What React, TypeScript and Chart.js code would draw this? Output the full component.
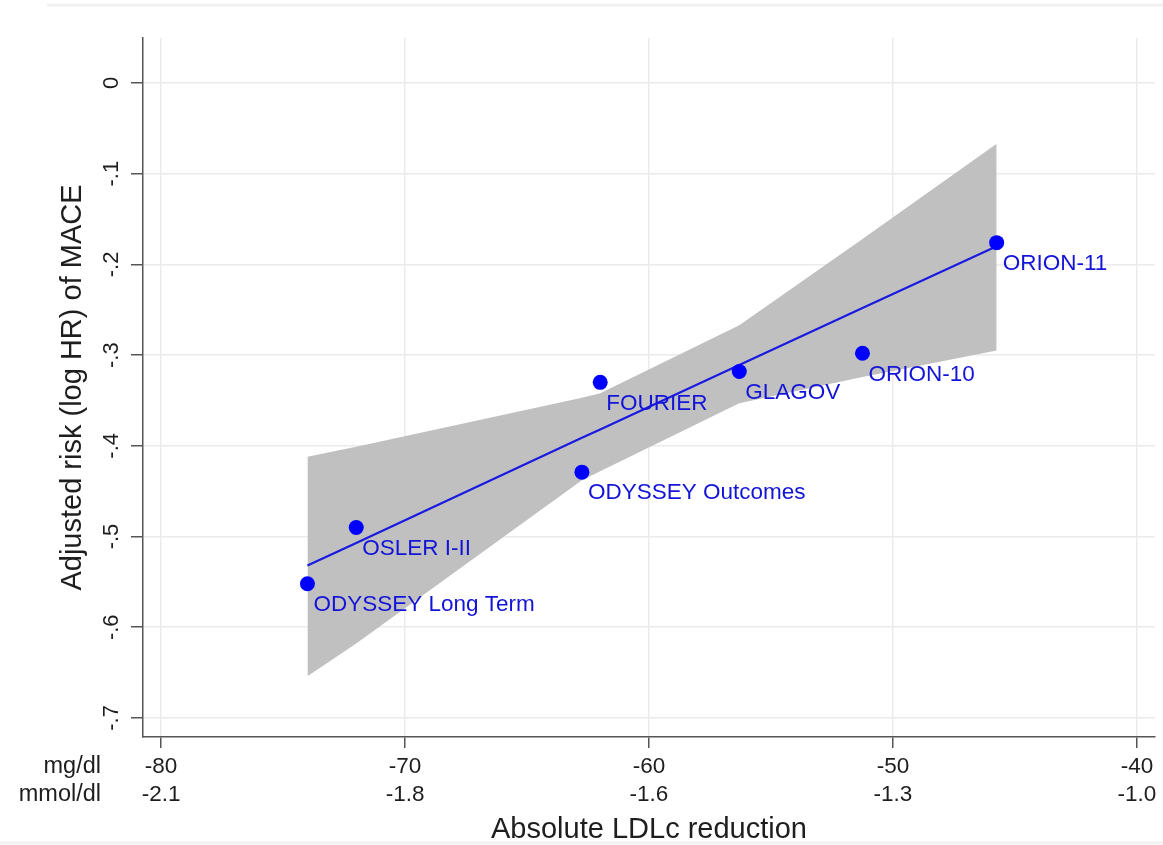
import React, { useEffect, useRef } from 'react';
import { Chart, registerables } from 'chart.js';

Chart.register(...registerables);

// ---- data ----
const trials = ['ODYSSEY Long Term', 'OSLER I-II', 'ODYSSEY Outcomes', 'FOURIER', 'GLAGOV', 'ORION-10', 'ORION-11'];
const ldlReduction = [-74.0, -72.0, -62.75, -62.0, -56.3, -51.25, -45.75];
const logHR = [-0.552, -0.49, -0.429, -0.33, -0.318, -0.298, -0.176];
const fittedLogHR = [-0.532, -0.507, -0.391, -0.382, -0.311, -0.248, -0.180];
const ciUpper = [-0.412, -0.401, -0.347, -0.342, -0.267, -0.172, -0.067];
const ciLower = [-0.654, -0.618, -0.438, -0.428, -0.353, -0.324, -0.295];

const xTicksMgDl = [-80, -70, -60, -50, -40];
const xTickLabelsMgDl = ['-80', '-70', '-60', '-50', '-40'];
const xTickLabelsMmol = ['-2.1', '-1.8', '-1.6', '-1.3', '-1.0'];
const yTicks = [0, -0.1, -0.2, -0.3, -0.4, -0.5, -0.6, -0.7];
const yTickLabels = ['0', '-.1', '-.2', '-.3', '-.4', '-.5', '-.6', '-.7'];

const xTitle = 'Absolute LDLc reduction';
const yTitle = 'Adjusted risk (log HR) of MACE';
const unitRow1 = 'mg/dl';
const unitRow2 = 'mmol/dl';

const FONT = '"Liberation Sans", Arial, Helvetica, sans-serif';
const BLUE = '#0000ff';
const LABEL_BLUE = '#1414d8';
const AXIS = '#555555';
const GRID = '#ebebeb';
const TEXT = '#1e1e1e';

const pts = (ys: number[]) => ldlReduction.map((x, i) => ({ x, y: ys[i] }));

const annotations = {
  id: 'annotations',
  beforeDraw(chart: any) {
    const { ctx, width, height } = chart;
    ctx.save();
    ctx.fillStyle = '#ffffff';
    ctx.fillRect(0, 0, width, height);
    // faint outer frame remnants visible in the reference
    ctx.strokeStyle = '#f1f1f1';
    ctx.lineWidth = 3;
    ctx.beginPath();
    ctx.moveTo(47, 5);
    ctx.lineTo(width, 5);
    ctx.moveTo(0, height - 2);
    ctx.lineTo(width, height - 2);
    ctx.stroke();
    ctx.restore();
  },
  afterDatasetsDraw(chart: any) {
    const { ctx, scales } = chart;
    const x = scales.x;
    const y = scales.y;
    ctx.save();
    ctx.font = `22.5px ${FONT}`;
    ctx.fillStyle = LABEL_BLUE;
    ctx.textAlign = 'left';
    ctx.textBaseline = 'middle';
    trials.forEach((t, i) => {
      ctx.fillText(t, x.getPixelForValue(ldlReduction[i]) + 6, y.getPixelForValue(logHR[i]) + 21);
    });
    ctx.restore();
  },
  afterDraw(chart: any) {
    const { ctx, scales, chartArea } = chart;
    const y = scales.y;
    ctx.save();
    ctx.fillStyle = TEXT;
    // y tick labels (rotated)
    ctx.font = `22px ${FONT}`;
    ctx.textAlign = 'center';
    ctx.textBaseline = 'alphabetic';
    yTicks.forEach((v, i) => {
      ctx.save();
      ctx.translate(118, y.getPixelForValue(v));
      ctx.rotate(-Math.PI / 2);
      ctx.fillText(yTickLabels[i], 0, 0);
      ctx.restore();
    });
    // y title
    ctx.font = `29px ${FONT}`;
    ctx.save();
    ctx.translate(81, (chartArea.top + chartArea.bottom) / 2);
    ctx.rotate(-Math.PI / 2);
    ctx.fillText(yTitle, 0, 0);
    ctx.restore();
    // x title
    ctx.fillText(xTitle, (chartArea.left + chartArea.right) / 2, 838);
    // unit labels
    ctx.font = `23.5px ${FONT}`;
    ctx.textAlign = 'right';
    ctx.textBaseline = 'middle';
    ctx.fillText(unitRow1, 101, 767);
    ctx.fillText(unitRow2, 101, 795);
    ctx.restore();
  },
};

export default function App() {
  const ref = useRef<HTMLCanvasElement>(null);
  useEffect(() => {
    if (!ref.current) return;
    const chart = new Chart(ref.current, {
      type: 'scatter',
      data: {
        datasets: [
          {
            label: 'lower',
            data: pts(ciLower),
            showLine: true,
            borderWidth: 0,
            borderColor: 'rgba(0,0,0,0)',
            pointRadius: 0,
            fill: false,
            order: 4,
          },
          {
            label: 'upper',
            data: pts(ciUpper),
            showLine: true,
            borderWidth: 0,
            borderColor: 'rgba(0,0,0,0)',
            backgroundColor: '#c0c0c0',
            pointRadius: 0,
            fill: { target: 0 },
            order: 3,
          },
          {
            label: 'fit',
            data: pts(fittedLogHR),
            showLine: true,
            borderWidth: 2.2,
            borderColor: '#1a1ae0',
            pointRadius: 0,
            fill: false,
            order: 2,
          },
          {
            label: 'trials',
            data: pts(logHR),
            showLine: false,
            pointRadius: 7.5,
            pointBackgroundColor: BLUE,
            pointBorderWidth: 0,
            backgroundColor: BLUE,
            borderColor: BLUE,
            order: 1,
          },
        ],
      },
      options: {
        responsive: false,
        animation: false,
        devicePixelRatio: 1,
        layout: { padding: { left: 0, right: 8, top: 38, bottom: 0 } },
        plugins: {
          legend: { display: false },
          tooltip: { enabled: false },
          title: { display: false },
        },
        scales: {
          x: {
            type: 'linear',
            min: -80.74,
            max: -39.26,
            afterBuildTicks: (scale: any) => {
              scale.ticks = xTicksMgDl.map((v) => ({ value: v }));
            },
            afterFit: (scale: any) => {
              scale.height = 108;
            },
            grid: {
              color: GRID,
              lineWidth: 1.5,
              tickColor: AXIS,
              tickLength: 11,
              tickWidth: 1.5,
            },
            border: { display: true, color: AXIS, width: 1.5 },
            ticks: {
              color: TEXT,
              font: { family: FONT, size: 22.5, lineHeight: 28 / 22.5 },
              padding: 5,
              maxRotation: 0,
              autoSkip: false,
              callback: (v: any) => {
                const i = xTicksMgDl.indexOf(Number(v));
                return i >= 0 ? [xTickLabelsMgDl[i], xTickLabelsMmol[i]] : '';
              },
            },
          },
          y: {
            type: 'linear',
            min: -0.721,
            max: 0.0496,
            afterBuildTicks: (scale: any) => {
              scale.ticks = yTicks.map((v) => ({ value: v }));
            },
            afterFit: (scale: any) => {
              scale.width = 143;
            },
            grid: {
              color: GRID,
              lineWidth: 1.5,
              tickColor: AXIS,
              tickLength: 12,
              tickWidth: 1.5,
            },
            border: { display: true, color: AXIS, width: 1.5 },
            ticks: { display: false },
          },
        },
      },
      plugins: [annotations],
    });
    return () => chart.destroy();
  }, []);

  return (
    <div style={{ position: 'absolute', left: 0, top: 0, width: 1163, height: 845, background: '#fff' }}>
      <canvas ref={ref} width={1163} height={845} style={{ display: 'block' }} />
    </div>
  );
}
